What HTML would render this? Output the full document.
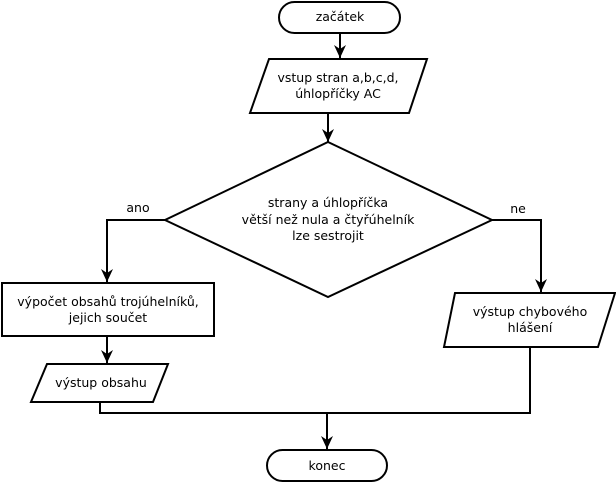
<!DOCTYPE html>
<html><head><meta charset="utf-8"><style>
html,body{margin:0;padding:0;background:#fff;}
svg{display:block;}
text{font-family:"DejaVu Sans","Liberation Sans",sans-serif;font-size:12.5px;fill:#000;}
</style></head><body>
<svg width="616" height="483" viewBox="0 0 616 483" xmlns="http://www.w3.org/2000/svg">
<defs><marker id="a" markerWidth="14" markerHeight="14" refX="13" refY="6" orient="auto" markerUnits="userSpaceOnUse"><path d="M0,0 L13,6 L0,12 L4,6 z" fill="#000"/></marker></defs>
<g fill="none" stroke="#000" stroke-width="2">
<rect x="279" y="2" width="121" height="31" rx="15.5"/>
<line x1="340" y1="33" x2="340" y2="58" marker-end="url(#a)"/>
<polygon points="269,59 427,59 409,113 250,113"/>
<line x1="328" y1="113" x2="328" y2="142" marker-end="url(#a)"/>
<polygon points="328,142 492,220 328,297 165,220"/>
<polyline points="165,220 107,220 107,282" marker-end="url(#a)"/>
<polyline points="492,220 541,220 541,292" marker-end="url(#a)"/>
<rect x="2" y="283" width="212" height="53"/>
<line x1="107" y1="336" x2="107" y2="363" marker-end="url(#a)"/>
<polygon points="47,364 168,364 153,402 31,402"/>
<polygon points="455,293 615,293 598,347 444,347"/>
<polyline points="100,402 100,413 530,413 530,347"/>
<line x1="327" y1="413" x2="327" y2="449" marker-end="url(#a)"/>
<rect x="267" y="450" width="120" height="31" rx="15.5"/>
</g>
<g text-anchor="middle">
<text x="340" y="21">začátek</text>
<text x="338" y="82">vstup stran a,b,c,d,</text>
<text x="338" y="98">úhlopříčky AC</text>
<text x="328" y="207">strany a úhlopříčka</text>
<text x="328" y="224">větší než nula a čtyřúhelník</text>
<text x="328" y="240">lze sestrojit</text>
<text x="138" y="212">ano</text>
<text x="518" y="213">ne</text>
<text x="108" y="306">výpočet  obsahů trojúhelníků,</text>
<text x="108" y="322">jejich součet</text>
<text x="101" y="387">výstup obsahu</text>
<text x="530" y="316">výstup chybového</text>
<text x="530" y="332">hlášení</text>
<text x="327" y="470">konec</text>
</g>
</svg>
</body></html>
